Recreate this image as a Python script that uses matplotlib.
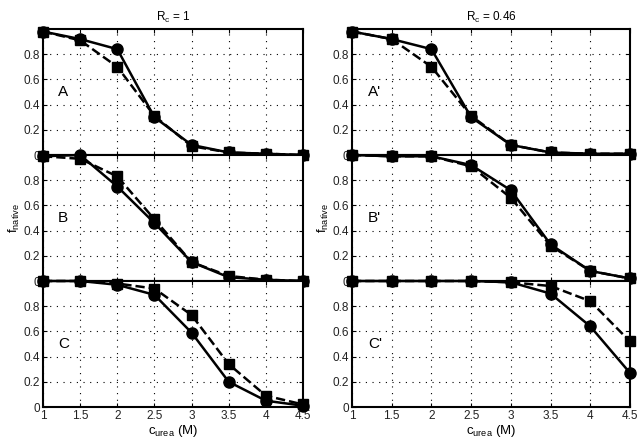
import matplotlib
matplotlib.use('Agg')
import matplotlib.pyplot as plt

plt.rcParams['font.family'] = ['Liberation Sans', 'DejaVu Sans']

# urea concentration (M)
c_urea = [1.0, 1.5, 2.0, 2.5, 3.0, 3.5, 4.0, 4.5]

# R_c = 1 column (circles solid, squares dashed)
a_circ = [0.98, 0.92, 0.84, 0.30, 0.08, 0.02, 0.01, 0.00]
a_sq = [0.98, 0.91, 0.70, 0.31, 0.07, 0.02, 0.01, 0.00]
b_circ = [0.99, 1.00, 0.75, 0.46, 0.15, 0.03, 0.01, 0.00]
b_sq = [0.99, 0.97, 0.83, 0.49, 0.15, 0.04, 0.01, 0.00]
c_circ = [1.00, 1.00, 0.97, 0.89, 0.59, 0.20, 0.05, 0.01]
c_sq = [1.00, 1.00, 0.98, 0.94, 0.73, 0.34, 0.09, 0.02]

# R_c = 0.46 column
a2_circ = [0.98, 0.92, 0.84, 0.30, 0.08, 0.02, 0.01, 0.01]
a2_sq = [0.98, 0.92, 0.70, 0.31, 0.08, 0.02, 0.01, 0.01]
b2_circ = [1.00, 0.99, 0.99, 0.92, 0.72, 0.29, 0.08, 0.02]
b2_sq = [1.00, 0.99, 0.99, 0.91, 0.66, 0.28, 0.08, 0.02]
c2_circ = [1.00, 1.00, 1.00, 1.00, 0.99, 0.90, 0.64, 0.27]
c2_sq = [1.00, 1.00, 1.00, 1.00, 0.99, 0.96, 0.84, 0.52]

columns = [
    ('$\\mathregular{R_c}$ = 1', [('A', a_circ, a_sq), ('B', b_circ, b_sq), ('C', c_circ, c_sq)]),
    ('$\\mathregular{R_c}$ = 0.46', [("A'", a2_circ, a2_sq), ("B'", b2_circ, b2_sq), ("C'", c2_circ, c2_sq)]),
]

fig = plt.figure(figsize=(6.4, 4.45), dpi=100)

col_x = [(43 / 640, 260 / 640), (352 / 640, 278 / 640)]
top, bot = 1 - 29 / 445, 1 - 407 / 445
h = (top - bot) / 3

for (title, panels), (x0, w) in zip(columns, col_x):
    for i, (lab, circ, sq) in enumerate(panels):
        ax = fig.add_axes([x0, top - (i + 1) * h, w, h])
        ax.plot(c_urea, sq, 'k--', lw=1.8, marker='s', ms=6.5, clip_on=False, zorder=3)
        ax.plot(c_urea, circ, 'k-', lw=1.8, marker='o', ms=8, clip_on=False, zorder=4)
        ax.set_xlim(1, 4.5)
        ax.set_ylim(0, 1)
        ax.set_xticks(c_urea)
        ax.set_yticks([0, 0.2, 0.4, 0.6, 0.8])
        ax.set_yticklabels(['0', '0.2', '0.4', '0.6', '0.8'])
        ax.grid(True, color='k', linestyle=(0, (1, 5)), lw=0.8)
        ax.tick_params(direction='in', top=True, right=True, labelsize=8.5,
                       labelcolor='#222222', length=3, pad=2)
        for s in ax.spines.values():
            s.set_linewidth(1.5)
        ax.text(1.2, 0.5, lab, fontsize=11, va='center')
        if i == 0:
            ax.set_title(title, fontsize=8.5, pad=6)
        if i == 1:
            ax.set_ylabel('$\\mathregular{f_{native}}$', fontsize=9.5, labelpad=1)
        if i < 2:
            ax.set_xticklabels([])
        else:
            ax.set_xticklabels(['1', '1.5', '2', '2.5', '3', '3.5', '4', '4.5'])
            ax.set_xlabel('$\\mathregular{c_{urea}}$ (M)', fontsize=9.5, labelpad=1)

fig.savefig('out.png', dpi=100)
